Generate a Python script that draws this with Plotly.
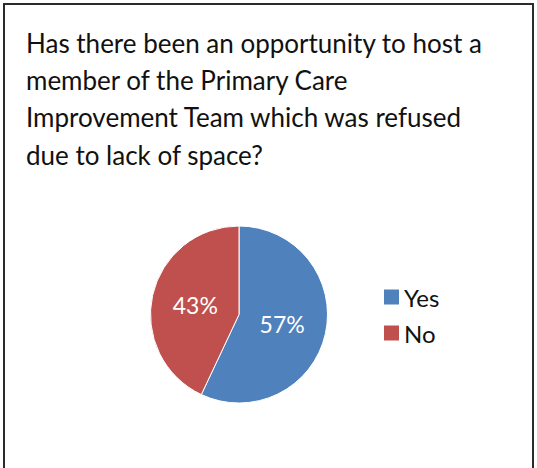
import plotly.graph_objects as go

# Survey response
categories = ["Yes", "No"]
shares = [57, 43]
colors = ["#4F81BD", "#C0504D"]

title_lines = [
    "Has there been an opportunity to host a",
    "member of the Primary Care",
    "Improvement Team which was refused",
    "due to lack of space?",
]

W, H = 537, 468
FONT = "Lato"


def px_x(x):
    return x / W


def px_y(y):
    return 1 - y / H


fig = go.Figure(
    go.Pie(
        labels=categories,
        values=shares,
        sort=False,
        direction="clockwise",
        rotation=0,
        marker=dict(colors=colors, line=dict(color="white", width=1)),
        textinfo="percent",
        textposition="inside",
        insidetextfont=dict(color="white", size=23, family=FONT),
        domain=dict(x=[px_x(150), px_x(328)], y=[px_y(403), px_y(226)]),
        hoverinfo="label+percent",
        showlegend=False,
    )
)

# Title block, one annotation per line with fixed spacing
line_centres = [43, 80, 117, 155]
for text, yc in zip(title_lines, line_centres):
    fig.add_annotation(
        text=text, xref="paper", yref="paper",
        x=px_x(24), y=px_y(yc), xanchor="left", yanchor="middle",
        showarrow=False, font=dict(family=FONT, size=26, color="#111111"),
    )

# Legend: colour swatch and label per category
legend_rows = [297, 333]
for name, col, yc in zip(categories, colors, legend_rows):
    fig.add_shape(
        type="rect", xref="paper", yref="paper",
        x0=px_x(384), x1=px_x(399), y0=px_y(yc + 7.5), y1=px_y(yc - 7.5),
        line=dict(width=0), fillcolor=col,
    )
    fig.add_annotation(
        text=name, xref="paper", yref="paper",
        x=px_x(402), y=px_y(yc), xanchor="left", yanchor="middle",
        showarrow=False, font=dict(family=FONT, size=24, color="#111111"),
    )

# Frame around the chart
fig.add_shape(
    type="rect", xref="paper", yref="paper",
    x0=px_x(4), x1=px_x(533), y0=px_y(475), y1=px_y(4),
    line=dict(color="#2b2b2b", width=2), fillcolor="rgba(0,0,0,0)",
)

fig.update_layout(
    width=W, height=H,
    margin=dict(l=0, r=0, t=0, b=0),
    paper_bgcolor="white", plot_bgcolor="white",
    showlegend=False,
)

fig.write_html("out.html")
